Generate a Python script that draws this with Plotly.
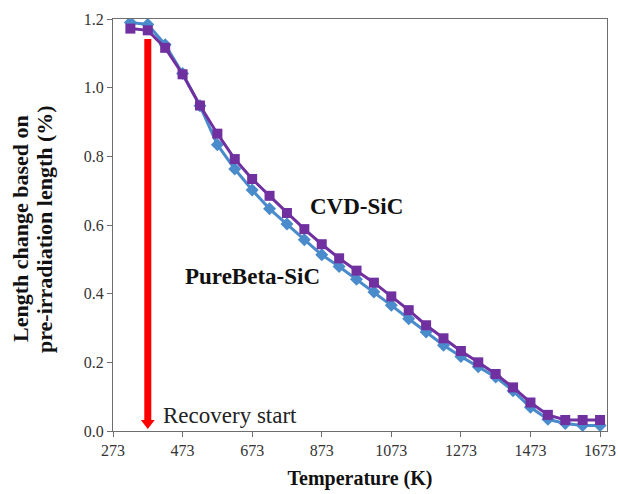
import plotly.graph_objects as go

# ---- data ----
temperature_K = [323, 373, 423, 473, 523, 573, 623, 673, 723, 773, 823, 873, 923, 973,
                 1023, 1073, 1123, 1173, 1223, 1273, 1323, 1373, 1423, 1473, 1523, 1573, 1623, 1673]
purebeta_sic = [1.190, 1.184, 1.125, 1.041, 0.947, 0.834, 0.763, 0.702, 0.647, 0.603, 0.557, 0.513,
                0.479, 0.442, 0.405, 0.366, 0.327, 0.288, 0.250, 0.217, 0.187, 0.157, 0.117, 0.069,
                0.034, 0.022, 0.016, 0.016]
cvd_sic = [1.172, 1.167, 1.116, 1.039, 0.948, 0.866, 0.792, 0.734, 0.685, 0.635, 0.588, 0.544,
           0.503, 0.467, 0.432, 0.392, 0.352, 0.308, 0.270, 0.233, 0.200, 0.166, 0.127, 0.083,
           0.047, 0.032, 0.032, 0.032]
x_ticks = [273, 473, 673, 873, 1073, 1273, 1473, 1673]
y_ticks = [0.0, 0.2, 0.4, 0.6, 0.8, 1.0, 1.2]
recovery_start_K = 373
arrow_top_value = 1.142
arrow_shaft_end_value = 0.032
arrow_head_value = 0.023

W, H = 618, 494
ML, MR, MT, MB = 113, 11, 19, 63
FONT = "Liberation Serif"
BLUE = "#4A8BCB"
PURPLE = "#7030A0"

fig = go.Figure()
fig.add_trace(go.Scatter(
    x=temperature_K, y=purebeta_sic, mode="lines+markers", name="PureBeta-SiC",
    line=dict(color=BLUE, width=3),
    marker=dict(symbol="diamond", size=10, color=BLUE),
))
fig.add_trace(go.Scatter(
    x=temperature_K, y=cvd_sic, mode="lines+markers", name="CVD-SiC",
    line=dict(color=PURPLE, width=3),
    marker=dict(symbol="square", size=10, color=PURPLE),
))

# red "recovery start" arrow
fig.add_shape(type="line", xref="x", yref="y",
              x0=recovery_start_K, x1=recovery_start_K, y0=arrow_top_value, y1=arrow_shaft_end_value,
              line=dict(color="#FF0000", width=7))
fig.add_trace(go.Scatter(
    x=[recovery_start_K], y=[arrow_head_value], mode="markers", showlegend=False,
    marker=dict(symbol="triangle-down", size=12, color="#FF0000"), hoverinfo="skip",
))

fig.add_annotation(x=411, y=0.044, xref="x", yref="y", text="Recovery start",
                   showarrow=False, xanchor="left", yanchor="middle",
                   font=dict(family=FONT, size=23, color="#222222"))
fig.add_annotation(x=0.492, y=0.545, xref="paper", yref="paper", text="<b>CVD-SiC</b>",
                   showarrow=False, xanchor="center", yanchor="middle",
                   font=dict(family=FONT, size=23, color="#111111"))
fig.add_annotation(x=0.282, y=0.375, xref="paper", yref="paper", text="<b>PureBeta-SiC</b>",
                   showarrow=False, xanchor="center", yanchor="middle",
                   font=dict(family=FONT, size=23, color="#111111"))

pw = W - ML - MR
ph = H - MT - MB
def px_to_paper_x(px):
    return (px - ML) / pw
def px_to_paper_y(py):
    return (H - MB - py) / ph

fig.add_annotation(x=px_to_paper_x(20), y=px_to_paper_y(229), xref="paper", yref="paper",
                   text="<b>Length change based on</b>", textangle=-90, showarrow=False,
                   xanchor="center", yanchor="middle",
                   font=dict(family=FONT, size=22, color="#111111"))
fig.add_annotation(x=px_to_paper_x(44), y=px_to_paper_y(229), xref="paper", yref="paper",
                   text="<b>pre-irradiation length (%)</b>", textangle=-90, showarrow=False,
                   xanchor="center", yanchor="middle",
                   font=dict(family=FONT, size=22, color="#111111"))

axis_common = dict(showgrid=False, zeroline=False, showline=True, linecolor="#6E6E6E",
                   linewidth=1.3, mirror=True, ticks="outside", ticklen=5, tickcolor="#6E6E6E",
                   tickfont=dict(family=FONT, size=16, color="#333333"))
fig.update_xaxes(range=[273, 1693], tickmode="array", tickvals=x_ticks,
                 ticktext=[str(t) for t in x_ticks],
                 title=dict(text="<b>Temperature (K)</b>", font=dict(family=FONT, size=20, color="#111111"),
                            standoff=12),
                 **axis_common)
fig.update_yaxes(range=[0, 1.2], tickmode="array", tickvals=y_ticks,
                 ticktext=[f"{t:.1f}" for t in y_ticks], **axis_common)

fig.update_layout(width=W, height=H, margin=dict(l=ML, r=MR, t=MT, b=MB, autoexpand=False),
                  paper_bgcolor="white", plot_bgcolor="white", showlegend=False,
                  font=dict(family=FONT))

fig.write_html("out.html", config={"displayModeBar": False},
               post_script="document.body.style.margin='0';document.body.style.overflow='hidden';")
